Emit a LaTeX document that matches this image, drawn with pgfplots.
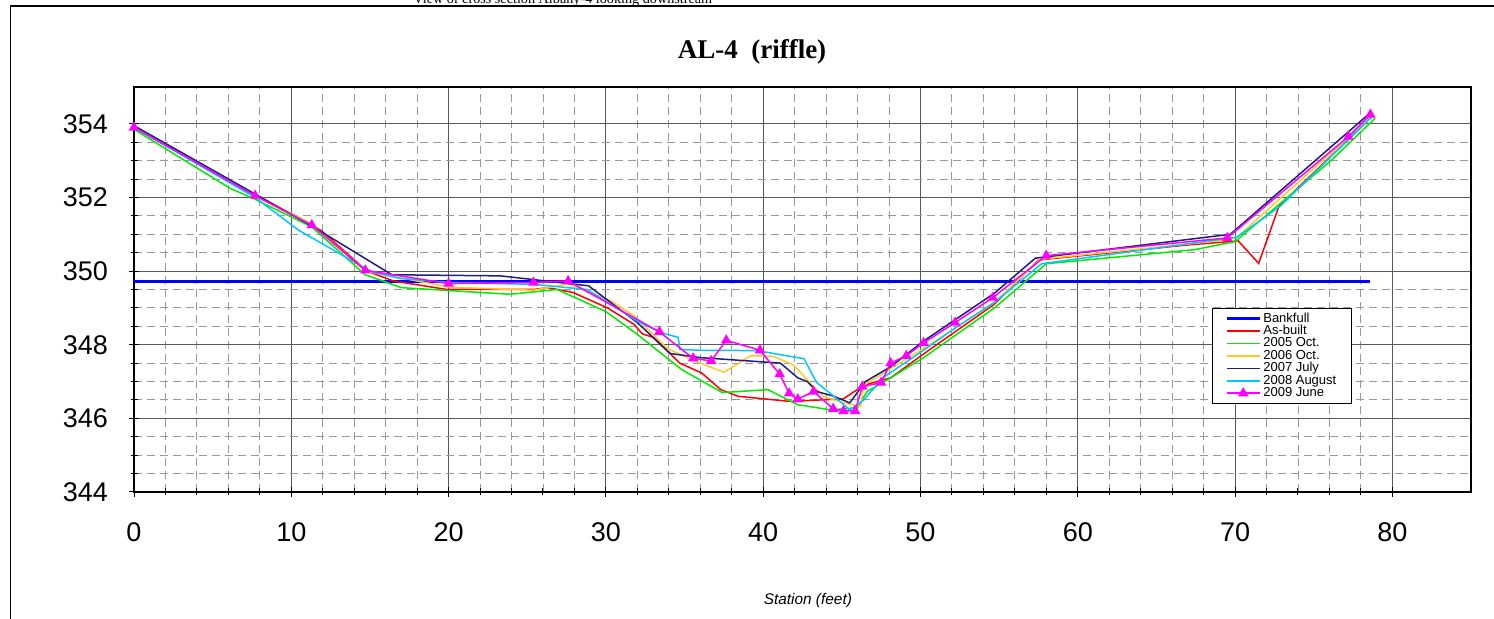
\documentclass[border=0pt]{standalone}
\usepackage{fontspec}
\setmainfont{Liberation Sans}
\newfontfamily\seriffont{Liberation Serif}
\usepackage{pgfplots}
\pgfplotsset{compat=1.18}
\definecolor{cNavy}{RGB}{30,30,130}
\definecolor{cOrange}{RGB}{255,200,40}
\definecolor{cCyan}{RGB}{0,200,255}
\definecolor{cGreen}{RGB}{0,235,0}
\definecolor{cMag}{RGB}{255,0,255}
\definecolor{cBlue}{RGB}{0,0,255}
\definecolor{cRed}{RGB}{255,0,0}
\begin{document}
\begin{tikzpicture}
\useasboundingbox (0,0) rectangle (747pt,309.5pt);
\draw[line width=0.6pt] (5.25pt,-10pt) -- (5.25pt,306.5pt) -- (760pt,306.5pt);
\node[anchor=base west,font=\seriffont\fontsize{7.1}{8}\selectfont,inner sep=0pt] at (206.5pt,307.5pt) {View of cross section Albany-4 looking downstream};
\node[anchor=base,font=\seriffont\bfseries\fontsize{13.5}{15}\selectfont,inner sep=0pt] at (376pt,280pt) {AL-4\ \ (riffle)};
\begin{axis}[
  at={(67pt,63.5pt)}, anchor=south west,
  scale only axis, width=668.5pt, height=202.5pt,
  xmin=0, xmax=85, ymin=344, ymax=355,
  xtick={0,10,...,80}, ytick={344,346,...,354},
  minor x tick num=4, minor y tick num=3,
  grid=both,
  major grid style={solid, draw=black!65, line width=0.5pt},
  minor grid style={draw=black!40, line width=0.45pt, dash pattern=on 4pt off 2.5pt},
  tick align=center, major tick length=5pt, minor tick length=3.5pt,
  xtick pos=left, ytick pos=left,
  tick style={black, line width=0.5pt},
  axis line style={black, line width=0.6pt},
  /pgf/number format/assume math mode=true,
  /pgf/number format/.cd, 1000 sep={}, /pgfplots/.cd,
  ticklabel style={font=\fontsize{13.5}{16}\selectfont},
  xticklabel style={yshift=-9.5pt},
  yticklabel style={xshift=-7pt},
  xlabel={Station (feet)},
  xlabel style={font=\itshape\fontsize{7.7}{9}\selectfont, at={(axis description cs:0.504,-0.267)}, anchor=center},
  legend style={at={(0.806,0.454)}, anchor=north west, draw=black, line width=0.5pt, fill=white,
    font=\fontsize{6.5}{6.5}\selectfont, inner xsep=6.5pt, inner ysep=2pt, row sep=0pt, column sep=0pt,
    nodes={inner xsep=1pt, inner ysep=0pt, text height=4.7pt, text depth=1.5pt},
    cells={anchor=west}},
  legend cell align=left,
  legend image code/.code={\draw[mark repeat=2,mark phase=2,#1] plot coordinates {(0pt,0pt) (8.25pt,0pt) (16.5pt,0pt)};},
  every axis plot/.append style={line width=0.75pt},
]
\addplot[cBlue, line width=1.6pt, no marks] coordinates {(0,349.72) (78.6,349.72)};
\addlegendentry{Bankfull}
\addplot[cRed, no marks] coordinates {
(0,353.9) (7.7,352.05) (11.3,351.25) (11.9,351.1) (14.8,350.0) (16.5,349.73) (19.9,349.5) (25.4,349.5)
(26.3,349.55) (27.9,349.42) (30.1,349.0) (31.8,348.55) (32.3,348.3) (33.0,348.2) (34.7,347.5)
(36.1,347.23) (37.3,346.78) (38.4,346.6) (41.7,346.46) (45.1,346.53) (46.4,346.9) (48.1,347.1)
(50.2,347.75) (52.2,348.35) (54.7,349.1) (57.5,350.3) (67.0,350.71) (70.2,350.82) (71.5,350.21)
(72.8,351.77) (78.8,354.23)};
\addlegendentry{As-built}
\addplot[cGreen, no marks] coordinates {
(0,353.85) (6.1,352.25) (7.7,351.95) (11.3,351.2) (14.7,349.9) (17.0,349.55) (23.9,349.37) (26.9,349.5)
(30.0,348.9) (32.0,348.28) (34.8,347.33) (37.4,346.7) (40.3,346.78) (42.2,346.37) (44.3,346.23)
(46.0,346.29) (46.6,346.73) (48.1,347.1) (50.2,347.65) (52.2,348.25) (54.7,349.0) (58.0,350.2)
(67.4,350.58) (70.0,350.8) (76.1,353.0) (78.9,354.15)};
\addlegendentry{2005 Oct.}
\addplot[cOrange, no marks] coordinates {
(0,353.9) (7.7,352.08) (11.3,351.28) (14.7,350.0) (20.1,349.56) (25.4,349.48) (27.6,349.65) (30.3,349.2)
(31.8,348.78) (33.9,347.9) (35.4,347.6) (37.5,347.25) (39.2,347.7) (40.6,347.69) (41.9,347.46)
(42.8,347.05) (43.8,346.6) (45.1,346.42) (46.2,346.33) (46.4,346.9) (48.1,347.35) (50.2,347.9)
(52.2,348.45) (54.7,349.15) (57.6,350.32) (69.6,350.85) (70.2,350.95) (78.7,354.2)};
\addlegendentry{2006 Oct.}
\addplot[cNavy, no marks] coordinates {
(0,353.95) (11.4,351.2) (16.4,349.9) (23.3,349.87) (28.9,349.6) (32.0,348.6) (34.1,347.76) (36.0,347.65)
(41.1,347.5) (42.2,347.1) (42.8,347.0) (43.4,346.73) (44.5,346.6) (45.5,346.42) (46.5,347.0)
(48.1,347.4) (50.2,348.1) (54.7,349.4) (57.3,350.35) (69.7,351.0) (78.6,354.3)};
\addlegendentry{2007 July}
\addplot[cCyan, no marks] coordinates {
(0,353.9) (7.7,352.0) (10.5,351.1) (14.2,350.2) (15.2,349.97) (16.9,349.8) (20.1,349.69) (25.4,349.64)
(28.8,349.5) (32.0,348.64) (33.5,348.33) (34.6,348.2) (34.7,347.87) (36.0,347.85) (39.6,347.84)
(42.6,347.62) (43.4,346.97) (44.5,346.6) (45.5,346.23) (46.4,346.5) (47.6,347.1) (50.2,347.85)
(52.2,348.45) (54.7,349.15) (57.7,350.2) (70.1,350.92) (72.9,351.77) (78.7,354.2)};
\addlegendentry{2008 August}
\addplot[cMag, mark=triangle*, mark size=2.3pt, mark options={solid, fill=cMag, draw=cMag}] coordinates {
(0,353.9) (7.7,352.05) (11.3,351.25) (14.7,350.02) (20.0,349.66) (25.4,349.69) (27.6,349.73)
(33.4,348.35) (35.55,347.63) (36.7,347.56) (37.65,348.12) (39.8,347.85) (41.05,347.2) (41.65,346.68)
(42.2,346.52) (43.2,346.73) (44.45,346.26) (45.1,346.2) (45.85,346.2) (46.3,346.86) (47.5,346.97)
(48.1,347.5) (49.1,347.7) (50.2,348.05) (52.2,348.6) (54.6,349.28) (58.0,350.42) (69.5,350.9)
(77.2,353.65) (78.6,354.25)};
\addlegendentry{2009 June}
\end{axis}
\end{tikzpicture}
\end{document}
